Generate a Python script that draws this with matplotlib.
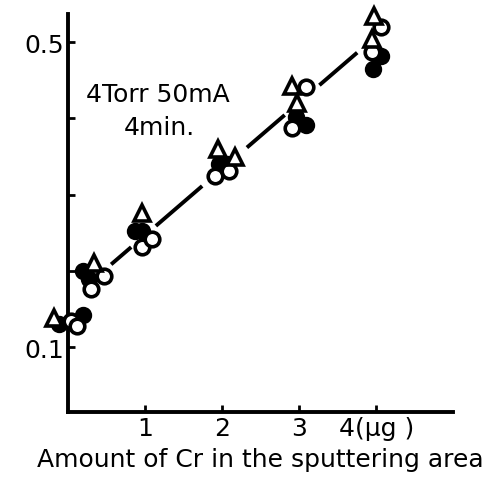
import matplotlib
matplotlib.use("Agg")
import matplotlib.pyplot as plt

# readings (x in ug of Cr, y = signal), small horizontal offsets as in the figure
tri_x = [-0.18, 0.34, 0.96, 1.94, 2.17, 2.90, 2.97, 3.97, 3.94]
tri_y = [0.139, 0.210, 0.276, 0.360, 0.350, 0.442, 0.420, 0.534, 0.504]

open_x = [0.04, 0.12, 0.30, 0.47, 0.96, 1.09, 1.90, 2.09, 3.08, 2.91, 4.06, 3.94]
open_y = [0.134, 0.128, 0.177, 0.193, 0.231, 0.242, 0.324, 0.331, 0.441, 0.387, 0.520, 0.487]

fill_x = [-0.12, 0.19, 0.19, 0.27, 0.87, 0.96, 1.96, 2.06, 2.96, 3.08, 4.06, 3.95]
fill_y = [0.130, 0.142, 0.200, 0.190, 0.252, 0.252, 0.340, 0.340, 0.402, 0.392, 0.482, 0.465]

# fitted straight line, drawn in pieces between the point groups
fit_slope = 0.087
fit_intercept = 0.16
fit_pieces = [(0.56, 0.82), (1.14, 1.74), (2.32, 2.81), (3.26, 3.75)]

x_ticks = [1, 2, 3, 4]
x_tick_labels = ["1", "2", "3", "4(\u03bcg )"]
y_ticks = [0.1, 0.2, 0.3, 0.4, 0.5]
y_tick_labels = ["0.1", "", "", "", "0.5"]

fig = plt.figure(figsize=(4.96, 4.81), dpi=100)
ax = fig.add_axes([0.137, 0.141, 0.776, 0.828])

for x0, x1 in fit_pieces:
    ax.plot([x0, x1], [fit_intercept + fit_slope * x0, fit_intercept + fit_slope * x1],
            color="black", lw=2.8, solid_capstyle="butt", clip_on=False)

ax.plot(fill_x, fill_y, "o", ms=10.5, mfc="black", mec="black", mew=2, ls="none", clip_on=False, zorder=3)
ax.plot(open_x, open_y, "o", ms=10.5, mfc="white", mec="black", mew=2.6, ls="none", clip_on=False, zorder=4)
ax.plot(tri_x, tri_y, "^", ms=11.5, mfc="white", mec="black", mew=2.6, ls="none", clip_on=False, zorder=5)

ax.set_xlim(0, 4.99)
ax.set_ylim(0.015, 0.537)
ax.spines["top"].set_visible(False)
ax.spines["right"].set_visible(False)
ax.spines["left"].set_linewidth(2.8)
ax.spines["bottom"].set_linewidth(2.8)

ax.set_xticks(x_ticks)
ax.set_xticklabels(x_tick_labels, fontsize=18)
ax.set_yticks(y_ticks)
ax.set_yticklabels(y_tick_labels, fontsize=18)
ax.tick_params(axis="both", direction="in", length=5, width=2, pad=3)

ax.set_xlabel("Amount of Cr in the sputtering area", fontsize=18, labelpad=5)

ax.text(1.16, 0.432, "4Torr 50mA", fontsize=18, ha="center", va="center")
ax.text(1.19, 0.389, "4min.", fontsize=18, ha="center", va="center")

fig.savefig("out.png", dpi=100)
